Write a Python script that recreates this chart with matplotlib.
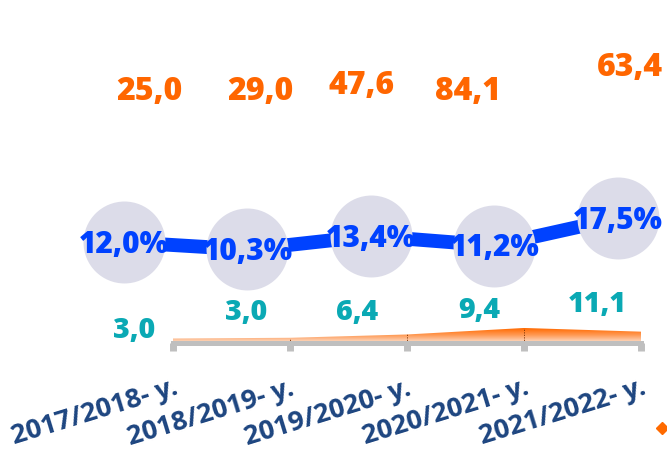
import numpy as np
import matplotlib
matplotlib.use("Agg")
import matplotlib.pyplot as plt
from matplotlib.colors import LinearSegmentedColormap
from matplotlib.lines import Line2D

# data
years = ["2017/2018- y.", "2018/2019- y.", "2019/2020- y.", "2020/2021- y.", "2021/2022- y."]
orange_vals = [25.0, 29.0, 47.6, 84.1, 63.4]
teal_vals = [3.0, 3.0, 6.4, 9.4, 11.1]
share_pct = [12.0, 10.3, 13.4, 11.2, 17.5]

W, H = 667, 451
ORANGE = "#FF6600"
TEAL = "#0AA9B4"
BLUE = "#0042FF"
NAVY = "#1D4580"
GREY = "#BFBFBF"
CIRCLE = "#DCDCE9"

# label positions in pixels (centre x, centre y), from the reference layout
orange_pos = [(149, 92), (260, 92), (362, 86), (468, 92), (630, 68)]
teal_pos = [(134, 331), (246, 313), (357, 313), (479, 311), (597, 305)]

plt.rcParams["font.family"] = ["Open Sans", "DejaVu Sans"]
plt.rcParams["font.weight"] = "bold"


def fmt(v):
    return f"{v:.1f}".replace(".", ",")


def px(x, y):
    return x / W, 1 - y / H


fig = plt.figure(figsize=(W / 100, H / 100), dpi=100)

# area axes (bottom axis with ticks)
base = 2.5
scale = 0.178  # px per unit
ax = fig.add_axes([173 / W, (H - 342.5) / H, 468 / W, 302 / H])
x = np.arange(len(years))
ax.set_xlim(0, 4)
ax.set_ylim(base, base + 302 / scale)

poly = ax.fill_between(x, base, orange_vals, color="none", lw=0)
cmap = LinearSegmentedColormap.from_list("pf", ["#FCD9C2", "#FF9A55", "#FF6A00"])
grad = np.linspace(0, 1, 100).reshape(-1, 1)
im = ax.imshow(grad, cmap=cmap, origin="lower", aspect="auto",
               extent=[0, 4, base, base + 75], zorder=1)
im.set_clip_path(poly.get_paths()[0], transform=ax.transData)
ax.vlines(x[1:], base, orange_vals[1:], colors="#7A3000", linestyles=(0, (1.5, 1.5)),
          lw=0.6, zorder=2)

for s in ["top", "left", "right"]:
    ax.spines[s].set_visible(False)
ax.spines["bottom"].set_color(GREY)
ax.spines["bottom"].set_linewidth(3.6)
ax.spines["bottom"].set_zorder(3)
ax.set_yticks([])
ax.set_xticks(x)
ax.set_xticklabels(years, rotation=17, ha="right", va="top", rotation_mode="anchor",
                   fontsize=19.5, color=NAVY, fontweight="bold")
ax.tick_params(axis="x", direction="out", length=6, width=5, color=GREY, pad=17.5)
ax.patch.set_visible(False)

# percentage line on its own full-figure axes
ax2 = fig.add_axes([0, 0, 1, 1])
ax2.set_xlim(-124 / 123.5, (W - 124) / 123.5)
ax2.set_ylim((294.4 - H) / 4.36, 294.4 / 4.36)
ax2.axis("off")
ax2.plot(x, share_pct, color=BLUE, lw=10, solid_capstyle="butt", zorder=1)
ax2.plot(x, share_pct, ls="none", marker="o", ms=59, mfc=CIRCLE, mec="none", zorder=2)
for i, v in enumerate(share_pct):
    ax2.annotate(fmt(v) + "%", (i, v), xytext=(0, -2), textcoords="offset points",
                 ha="center", va="center", fontsize=21.5, color=BLUE,
                 fontweight="heavy", zorder=3)

for (cx, cy), v in zip(orange_pos, orange_vals):
    fig.text(*px(cx, cy), fmt(v), ha="center", va="center", fontsize=23,
             color=ORANGE, fontweight="heavy")
for (cx, cy), v in zip(teal_pos, teal_vals):
    fig.text(*px(cx, cy), fmt(v), ha="center", va="center", fontsize=20.5,
             color=TEAL, fontweight="heavy")

# cut-off legend entry at bottom right
fig.add_artist(Line2D([662 / W, 1.0], [1 - 428 / H] * 2, color="#FF6A00", lw=2,
                      transform=fig.transFigure))
fig.add_artist(Line2D([662 / W], [1 - 428 / H], marker="D", ms=6, color="#FF6A00",
                      ls="none", transform=fig.transFigure))

fig.savefig("out.png", dpi=100)
